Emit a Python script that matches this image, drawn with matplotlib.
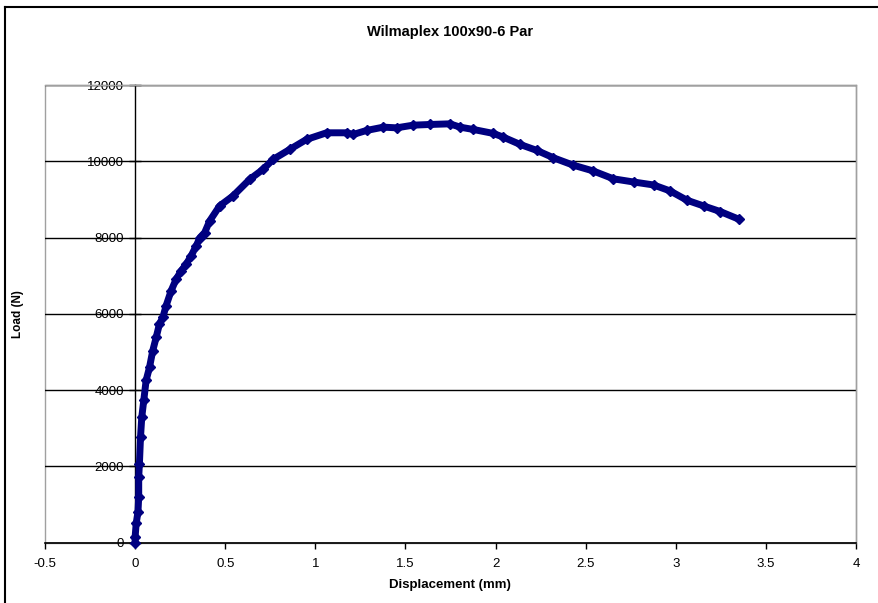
import matplotlib
matplotlib.use("Agg")
import matplotlib.pyplot as plt
from matplotlib.patches import Rectangle
from matplotlib.lines import Line2D

plt.rcParams['font.family'] = ['Liberation Sans', 'DejaVu Sans']

title = "Wilmaplex 100x90-6 Par"
x_label = "Displacement (mm)"
y_label = "Load (N)"

displacement = [0.0, 0.0, 0.006, 0.016, 0.02, 0.02, 0.024, 0.03, 0.037, 0.048,
                0.061, 0.08, 0.098, 0.117, 0.135, 0.154, 0.172, 0.2, 0.228,
                0.256, 0.284, 0.311, 0.339, 0.36, 0.386, 0.414, 0.469, 0.543,
                0.636, 0.71, 0.766, 0.858, 0.951, 1.062, 1.173, 1.21, 1.284,
                1.377, 1.451, 1.543, 1.636, 1.747, 1.803, 1.877, 1.988, 2.043,
                2.136, 2.229, 2.321, 2.43, 2.543, 2.654, 2.766, 2.877, 2.969,
                3.062, 3.154, 3.247, 3.349]
load = [0, 150, 507, 810, 1200, 1725, 2075, 2770, 3294, 3730,
        4253, 4601, 5037, 5385, 5734, 5908, 6214, 6606, 6912,
        7129, 7305, 7521, 7783, 8000, 8131, 8438, 8830, 9091,
        9527, 9789, 10050, 10311, 10573, 10747, 10747, 10703, 10808,
        10895, 10877, 10947, 10965, 10982, 10895, 10834, 10730, 10633,
        10442, 10285, 10092, 9900, 9745, 9540, 9457, 9379, 9222,
        8979, 8830, 8682, 8483]

x_ticks = [-0.5, 0, 0.5, 1, 1.5, 2, 2.5, 3, 3.5, 4]
x_tick_labels = ["-0.5", "0", "0.5", "1", "1.5", "2", "2.5", "3", "3.5", "4"]
y_ticks = [0, 2000, 4000, 6000, 8000, 10000, 12000]

W, H = 879, 603
fig = plt.figure(figsize=(W / 100, H / 100), dpi=100)
ax = fig.add_axes([45 / W, 1 - 542.7 / H, (856 - 45) / W, (542.7 - 85) / H])

navy = "#000080"
ax.plot(displacement, load, color=navy, lw=5.0, marker="D", markersize=4.8,
        markeredgecolor=navy, markerfacecolor=navy, solid_capstyle="round",
        solid_joinstyle="round", zorder=5, clip_on=False)

ax.set_xlim(-0.5, 4)
ax.set_ylim(0, 12000)
ax.set_xticks(x_ticks)
ax.set_xticklabels(x_tick_labels)
ax.set_yticks(y_ticks)
ax.set_yticklabels([str(v) for v in y_ticks])

ax.grid(axis="y", color="black", lw=1.0, zorder=1)
ax.set_axisbelow(True)

for s in ["top", "right"]:
    ax.spines[s].set_color("#a0a0a0")
    ax.spines[s].set_linewidth(1.0)
ax.spines["left"].set_position(("data", 0))
ax.spines["left"].set_color("black")
ax.spines["left"].set_linewidth(1.0)
ax.spines["bottom"].set_color("black")
ax.spines["bottom"].set_linewidth(1.2)
ax.add_patch(Rectangle((0, 0), 1, 1, transform=ax.transAxes, fill=False,
                       edgecolor="#a0a0a0", lw=1.0, clip_on=False, zorder=0))

ax.tick_params(axis="y", direction="inout", length=9, width=1, labelsize=9.5,
               pad=3.5, colors="black")
ax.tick_params(axis="x", direction="out", length=4, width=1, labelsize=9.5,
               pad=7, colors="black")

fig.text(450 / W, 1 - 32 / H, title, ha="center", va="center",
         fontsize=10.5, fontweight="bold")
fig.text(450 / W, 1 - 585 / H, x_label, ha="center", va="center",
         fontsize=9.5, fontweight="bold")
fig.text(18 / W, 1 - 314 / H, y_label, ha="center", va="center",
         fontsize=8.5, fontweight="bold", rotation=90)

fig.add_artist(Line2D([5 / W, 5 / W], [0, 1 - 7 / H], color="black", lw=1.5,
                      transform=fig.transFigure))
fig.add_artist(Line2D([5 / W, 1], [1 - 7 / H, 1 - 7 / H], color="black", lw=1.5,
                      transform=fig.transFigure))

fig.savefig("out.png", dpi=100)
